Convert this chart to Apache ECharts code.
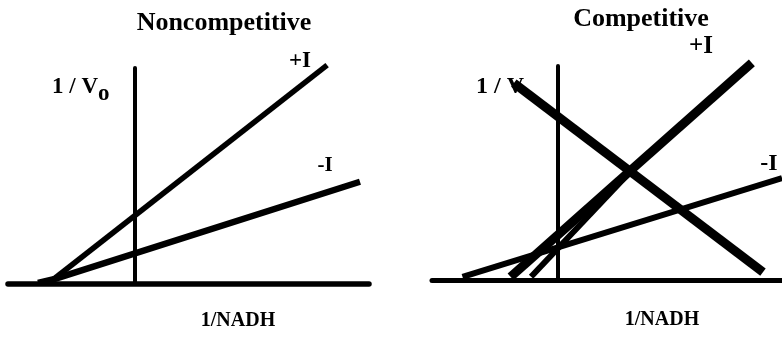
<!DOCTYPE html>
<html>
<head>
<meta charset="utf-8">
<script src="https://cdn.jsdelivr.net/npm/echarts@6/dist/echarts.min.js"></script>
<style>
  html, body { margin: 0; padding: 0; background: #fff; }
  #chart { width: 782px; height: 337px; }
</style>
</head>
<body>
<div id="chart"></div>
<script>
// ---- 数据（从图上读出的估计值，单位为任意刻度）----
// 轴范围
const nonXRange = [-3.5, 6.5];
const compXRange = [-3.5, 6.25];
const yRange = [0, 6];

// 左图: Noncompetitive
const nonPlusI = [[-2.23, 0.14], [5.34, 6.08]];
const nonMinusI = [[-2.67, 0.03], [-2.2, 0.14], [6.25, 2.84]];

// 右图: Competitive
const compPlusI = [[-1.31, 0.09], [5.41, 6.09]];
const compPlusI2 = [[-0.74, 0.09], [2.28, 3.31]];
const compMinusI = [[-2.65, 0.09], [6.25, 2.86]];
const compCross = [[-1.22, 5.52], [5.72, 0.22]];

const FONT = '"Liberation Serif", "Times New Roman", serif';

function axisX(idx, range, width) {
  return {
    type: 'value', gridIndex: idx, min: range[0], max: range[1],
    axisLine: { show: true, onZero: true, lineStyle: { color: '#000', width: width } },
    axisTick: { show: false }, axisLabel: { show: false }, splitLine: { show: false },
  };
}

function axisY(idx, width) {
  return {
    type: 'value', gridIndex: idx, min: yRange[0], max: yRange[1],
    axisLine: { show: true, onZero: true, lineStyle: { color: '#000', width: width } },
    axisTick: { show: false }, axisLabel: { show: false }, splitLine: { show: false },
  };
}

function seg(data, idx, width) {
  return {
    type: 'line', data: data, xAxisIndex: idx, yAxisIndex: idx,
    showSymbol: false, clip: false, silent: true,
    lineStyle: { color: '#000', width: width, cap: 'butt' },
  };
}

function txt(text, x, y, size, align) {
  return {
    type: 'text', x: x, y: y, z: 0,
    style: {
      text: text, fill: '#000', font: `bold ${size}px ${FONT}`,
      textAlign: align || 'center', textVerticalAlign: 'middle',
    },
  };
}

const chart = echarts.init(document.getElementById('chart'));

chart.setOption({
  backgroundColor: '#fff',
  animation: false,
  grid: [
    { left: 8, top: 68, width: 361, height: 216 },
    { left: 432, top: 66, right: 0, height: 214 },
  ],
  xAxis: [axisX(0, nonXRange, 5.5), axisX(1, compXRange, 5)],
  yAxis: [axisY(0, 4), axisY(1, 4)],
  series: [
    seg(nonPlusI, 0, 5.5),
    seg(nonMinusI, 0, 6.5),
    seg(compPlusI, 1, 9),
    seg(compPlusI2, 1, 6),
    seg(compMinusI, 1, 6),
    seg(compCross, 1, 9),
  ],
  graphic: [
    txt('Noncompetitive', 224, 23, 26),
    txt('+I', 300, 61, 23),
    txt('-I', 325, 166, 21),
    txt('1 / V', 52, 87, 23, 'left'),
    txt('o', 98, 94, 23, 'left'),
    txt('1/NADH', 238, 321, 20),

    txt('Competitive', 641, 19, 26),
    txt('+I', 701, 47, 25),
    txt('-I', 769, 164, 24),
    txt('1 / V', 476, 87, 24, 'left'),
    txt('1/NADH', 662, 320, 20),
  ],
});
</script>
</body>
</html>
